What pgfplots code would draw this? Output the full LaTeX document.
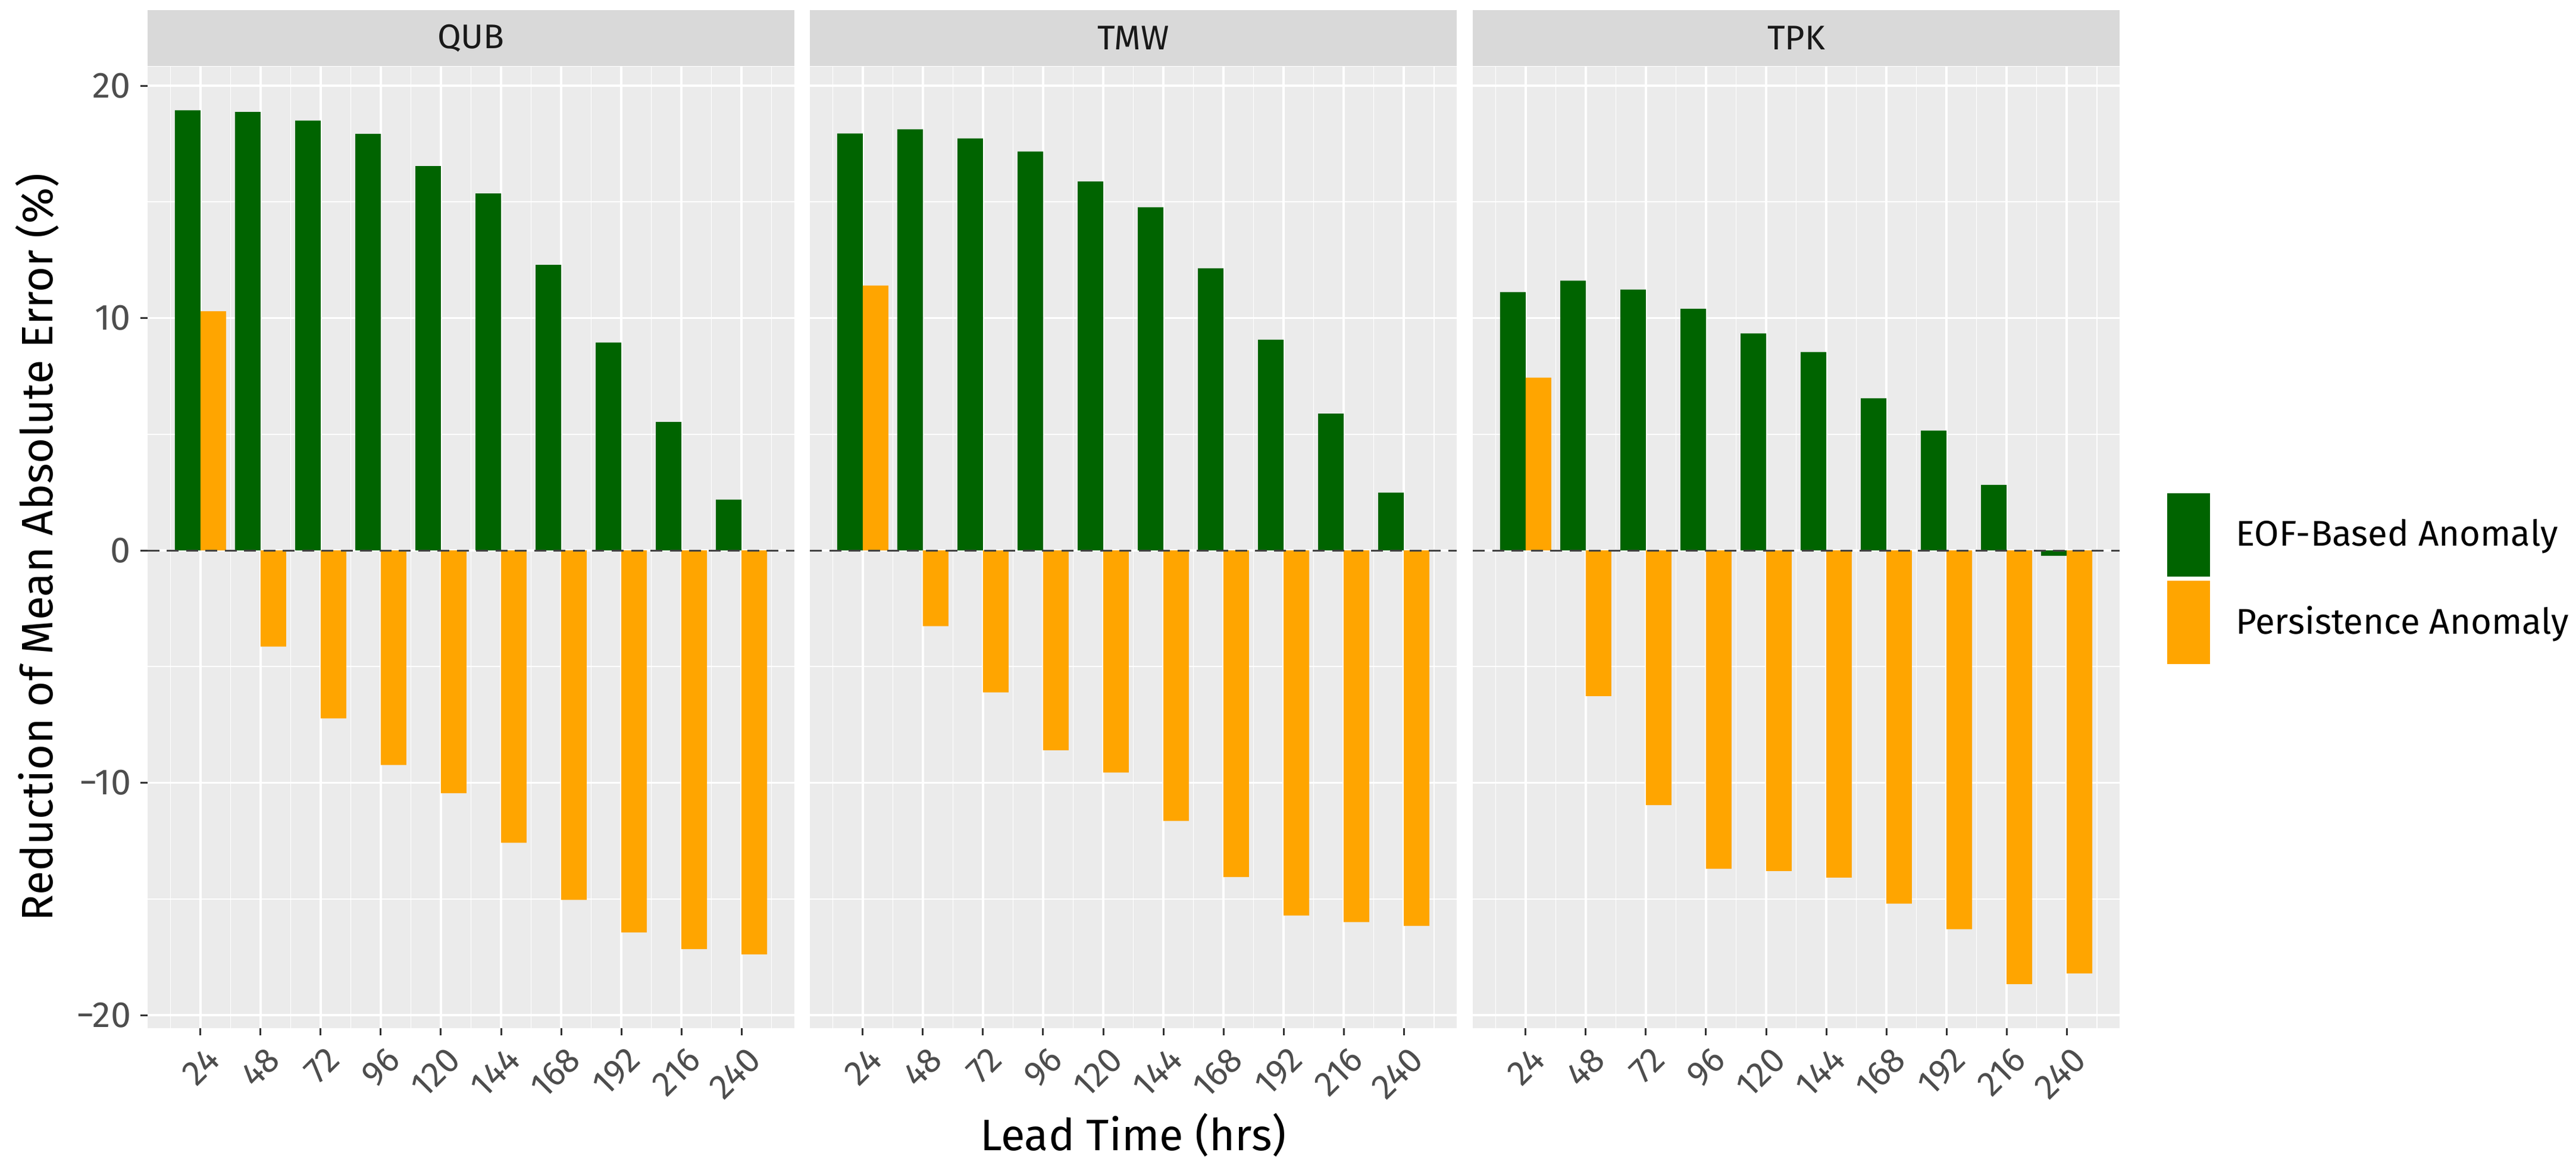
\documentclass[border=0pt]{standalone}
\usepackage{fontspec}
\setmainfont{Fira Sans}
\usepackage{pgfplots}
\usepackage{pgfplotstable}
\pgfplotsset{compat=1.18}

\definecolor{eofgreen}{HTML}{006400}
\definecolor{persorange}{HTML}{FFA500}
\definecolor{panelgrey}{HTML}{EBEBEB}
\definecolor{stripgrey}{HTML}{D9D9D9}
\definecolor{tickgrey}{HTML}{333333}
\definecolor{labelgrey}{HTML}{4D4D4D}
\definecolor{zerodash}{HTML}{404040}

% lead index, EOF-based, persistence (% reduction of MAE)
\pgfplotstableread{
x eof pers
1 18.94 10.29
2 18.87 -4.14
3 18.50 -7.23
4 17.93 -9.23
5 16.54 -10.45
6 15.36 -12.58
7 12.29 -15.04
8 8.95 -16.44
9 5.53 -17.16
10 2.19 -17.38
}\qub
\pgfplotstableread{
x eof pers
1 17.94 11.40
2 18.12 -3.26
3 17.73 -6.11
4 17.17 -8.60
5 15.88 -9.56
6 14.77 -11.64
7 12.14 -14.05
8 9.07 -15.71
9 5.89 -15.99
10 2.49 -16.16
}\tmw
\pgfplotstableread{
x eof pers
1 11.12 7.44
2 11.61 -6.27
3 11.23 -10.96
4 10.40 -13.70
5 9.34 -13.80
6 8.54 -14.08
7 6.55 -15.20
8 5.16 -16.30
9 2.82 -18.66
10 -0.23 -18.20
}\tpk

\tikzset{zeroline/.style={dash pattern=on 4pt off 2.5pt, line width=0.6pt, color=zerodash}}

\pgfplotsset{
  panel/.style={
    scale only axis, width=217.4pt, height=323.2pt,
    anchor=south west,
    xmin=0.12, xmax=10.88, ymin=-20.56, ymax=20.82,
    axis background/.style={fill=panelgrey},
    axis line style={draw=none},
    xtick={1,...,10},
    xticklabels={24,48,72,96,120,144,168,192,216,240},
    minor xtick={0.5,1.5,...,10.5},
    ytick={-20,-10,0,10,20},
    yticklabels={−20,−10,0,10,20},
    minor ytick={-15,-5,5,15},
    grid=both,
    major grid style={white, line width=0.7pt},
    minor grid style={white, line width=0.35pt},
    tick align=outside, xtick pos=bottom, ytick pos=left,
    major tick length=2.4pt, minor tick length=0pt,
    tick style={color=tickgrey, line width=0.6pt},
    xticklabel style={rotate=45, anchor=north east, inner sep=0pt,
      xshift=-1.2pt, yshift=-3.2pt,
      font=\fontsize{11.8}{13}\selectfont, text=labelgrey},
    yticklabel style={inner sep=0pt, xshift=-3pt,
      font=\fontsize{12.2}{13}\selectfont, text=labelgrey},
    title style={at={(0.5,1)}, anchor=south, yshift=-6pt, fill=stripgrey,
      minimum width=217.4pt, minimum height=18.8pt, inner sep=0pt,
      text=black!90, font=\fontsize{11.5}{13}\selectfont},
    label style={font=\fontsize{14.8}{17}\selectfont},
  },
  eofbar/.style={ybar, fill=eofgreen, draw=none, bar width=0.425, bar shift=-0.2125,
    legend image code/.code={\fill[fill=eofgreen] (0pt,-14pt) rectangle (14.4pt,14pt);}},
  persbar/.style={ybar, fill=persorange, draw=none, bar width=0.425, bar shift=0.2125,
    legend image code/.code={\fill[fill=persorange] (0pt,-14pt) rectangle (14.4pt,14pt);}},
}

\begin{document}
\begin{tikzpicture}
\useasboundingbox (-49.6pt,-48pt) rectangle (816.2pt,345.6pt);

\begin{axis}[panel, at={(0pt,0pt)}, title={QUB},
  ylabel={Reduction of Mean Absolute Error (\%)},
  ylabel style={at={(axis description cs:-0.171,0.5)}, anchor=center}]
\addplot[eofbar] table[x=x, y=eof] {\qub};
\addplot[persbar] table[x=x, y=pers] {\qub};
\draw[zeroline] (axis cs:0.12,0) -- (axis cs:10.88,0);
\end{axis}

\begin{axis}[panel, at={(222.6pt,0pt)}, title={TMW},
  yticklabels={}, ytick style={draw=none},
  xlabel={Lead Time (hrs)},
  xlabel style={at={(axis description cs:0.5,-0.1269)}, anchor=base}]
\addplot[eofbar] table[x=x, y=eof] {\tmw};
\addplot[persbar] table[x=x, y=pers] {\tmw};
\draw[zeroline] (axis cs:0.12,0) -- (axis cs:10.88,0);
\end{axis}

\begin{axis}[panel, at={(445.4pt,0pt)}, title={TPK},
  yticklabels={}, ytick style={draw=none},
  legend style={draw=none, fill=none, at={(1.0727,0.5569)}, anchor=north west,
    inner sep=0pt, row sep=1.4pt, nodes={inner sep=0pt},
    /tikz/every odd column/.style={column sep=8.6pt},
    font=\fontsize{12}{14}\selectfont},
  legend cell align=left]
\addplot[eofbar] table[x=x, y=eof] {\tpk};
\addlegendentry{EOF-Based Anomaly}
\addplot[persbar] table[x=x, y=pers] {\tpk};
\addlegendentry{Persistence Anomaly}
\draw[zeroline] (axis cs:0.12,0) -- (axis cs:10.88,0);
\end{axis}
\end{tikzpicture}
\end{document}
